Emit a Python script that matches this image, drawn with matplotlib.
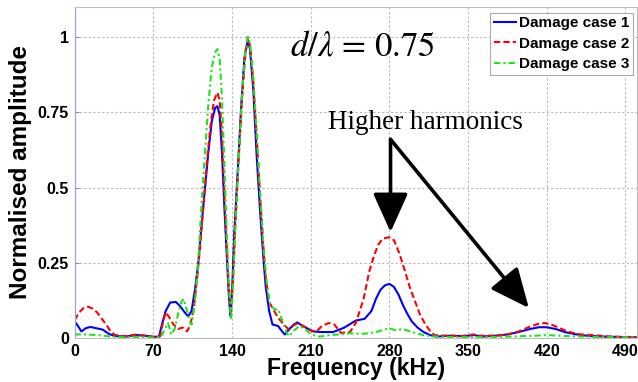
import matplotlib
matplotlib.use("Agg")
import matplotlib.pyplot as plt

plt.rcParams['font.family'] = ['Liberation Sans', 'DejaVu Sans']
plt.rcParams['mathtext.fontset'] = 'stix'

# Damage case 1 (solid blue)
freq_1 = [0, 3, 6, 10, 14, 20, 25, 30, 35, 45, 55, 62, 70, 75, 78, 81, 85, 90, 94, 98,
          101, 104, 107, 110, 113, 116, 119, 122, 125, 127, 129, 131, 133, 135, 137, 138.5,
          140, 142, 145, 148, 151, 154, 156, 159, 162, 165, 168, 170, 173, 176, 181, 185,
          187, 191, 195, 198, 203, 208, 212, 220, 230, 240, 250, 258, 264, 268, 272, 276,
          280, 284, 288, 292, 296, 300, 305, 310, 316, 322, 335, 345, 355, 362, 375, 385,
          395, 405, 413, 420, 428, 436, 445, 455, 470, 490, 500]
amp_1 = [0.055, 0.04, 0.022, 0.033, 0.037, 0.032, 0.028, 0.015, 0.007, 0.005, 0.01, 0.008,
         0.004, 0.005, 0.05, 0.09, 0.118, 0.12, 0.105, 0.085, 0.072, 0.09, 0.16, 0.25, 0.38,
         0.5, 0.62, 0.72, 0.765, 0.77, 0.74, 0.62, 0.45, 0.3, 0.15, 0.073, 0.15, 0.35, 0.55,
         0.76, 0.93, 0.99, 0.96, 0.82, 0.6, 0.42, 0.26, 0.17, 0.09, 0.045, 0.04, 0.02, 0.012,
         0.03, 0.045, 0.052, 0.04, 0.03, 0.022, 0.02, 0.02, 0.035, 0.058, 0.064, 0.09, 0.13,
         0.16, 0.175, 0.18, 0.17, 0.145, 0.11, 0.08, 0.055, 0.035, 0.021, 0.01, 0.005, 0.008,
         0.006, 0.01, 0.005, 0.008, 0.012, 0.02, 0.03, 0.036, 0.036, 0.03, 0.02, 0.013, 0.008,
         0.005, 0.003, 0.002]

# Damage case 2 (dashed red)
freq_2 = [0, 4, 8, 12, 16, 20, 24, 28, 32, 36, 45, 55, 62, 70, 76, 79, 81, 84, 88, 92, 96,
          100, 103, 106, 109, 112, 115, 118, 121, 124, 127, 129, 131, 133, 135, 137, 139, 141,
          143, 146, 149, 152, 154, 156, 159, 162, 165, 168, 170, 173, 176, 179, 182, 186, 190,
          194, 197, 202, 206, 210, 215, 220, 226, 231, 237, 245, 250, 253, 257, 262, 266, 270,
          274, 280, 284, 289, 294, 298, 302, 307, 312, 316, 320, 330, 345, 355, 360, 375, 385,
          395, 405, 412, 418, 424, 432, 440, 450, 460, 475, 490, 500]
amp_2 = [0.06, 0.085, 0.1, 0.104, 0.098, 0.085, 0.065, 0.045, 0.022, 0.01, 0.006, 0.012,
         0.008, 0.004, 0.006, 0.06, 0.085, 0.07, 0.045, 0.03, 0.035, 0.022, 0.045, 0.1, 0.2,
         0.32, 0.46, 0.6, 0.71, 0.79, 0.815, 0.79, 0.68, 0.5, 0.33, 0.18, 0.09, 0.2, 0.38, 0.6,
         0.8, 0.95, 1.0, 0.97, 0.85, 0.66, 0.47, 0.3, 0.2, 0.12, 0.1, 0.08, 0.063, 0.045, 0.03,
         0.04, 0.047, 0.042, 0.035, 0.025, 0.022, 0.04, 0.05, 0.045, 0.017, 0.02, 0.05, 0.083,
         0.13, 0.22, 0.27, 0.31, 0.33, 0.335, 0.325, 0.28, 0.22, 0.17, 0.13, 0.08, 0.045, 0.025,
         0.01, 0.008, 0.007, 0.012, 0.008, 0.008, 0.012, 0.022, 0.038, 0.047, 0.05, 0.045,
         0.032, 0.02, 0.012, 0.01, 0.005, 0.004, 0.003]

# Damage case 3 (dash-dot green)
freq_3 = [0, 10, 20, 30, 40, 55, 70, 77, 80, 83, 86, 89, 92, 95, 97, 100, 102, 104, 107, 110,
          113, 116, 119, 122, 125, 127, 129, 131, 133, 135, 137, 139, 141, 143, 146, 149, 152,
          154, 156, 159, 162, 165, 168, 171, 174, 178, 181, 185, 189, 191, 195, 200, 205, 209,
          214, 218, 227, 235, 245, 255, 262, 270, 275, 280, 285, 292, 300, 310, 322, 340, 380,
          410, 420, 435, 460, 500]
amp_3 = [0.012, 0.012, 0.01, 0.006, 0.003, 0.004, 0.002, 0.004, 0.03, 0.05, 0.012, 0.03,
         0.08, 0.12, 0.13, 0.09, 0.06, 0.045, 0.12, 0.26, 0.45, 0.62, 0.78, 0.9, 0.95, 0.96,
         0.93, 0.8, 0.6, 0.38, 0.18, 0.06, 0.18, 0.38, 0.6, 0.82, 0.96, 1.0, 0.98, 0.86, 0.68,
         0.48, 0.3, 0.18, 0.11, 0.095, 0.096, 0.055, 0.015, 0.006, 0.025, 0.04, 0.03, 0.016,
         0.008, 0.005, 0.01, 0.012, 0.016, 0.014, 0.016, 0.022, 0.028, 0.033, 0.026, 0.03,
         0.02, 0.01, 0.005, 0.003, 0.004, 0.008, 0.01, 0.007, 0.004, 0.002]

series_labels = ['Damage case 1', 'Damage case 2', 'Damage case 3']
x_ticks = [0, 70, 140, 210, 280, 350, 420, 490]
y_ticks = [0, 0.25, 0.5, 0.75, 1]
y_tick_labels = ['0', '0.25', '0.5', '0.75', '1']

fig = plt.figure(figsize=(6.38, 3.82), dpi=100)
ax = fig.add_axes([0.117, 0.115, 0.881, 0.867])

ax.plot(freq_1, amp_1, color=(0, 0, 1), lw=1.5, ls='-', label=series_labels[0])
ax.plot(freq_2, amp_2, color=(1, 0, 0), lw=1.5, ls=(0, (3, 1.5)), label=series_labels[1])
ax.plot(freq_3, amp_3, color=(0.1, 0.9, 0.1), lw=1.5, ls=(0, (3, 1.5, 1, 1.5)),
        label=series_labels[2])

ax.set_xlim(0, 500)
ax.set_ylim(0, 1.1)
ax.set_xticks(x_ticks)
ax.set_yticks(y_ticks)
ax.set_yticklabels(y_tick_labels)
ax.tick_params(axis='x', length=0, pad=4, labelsize=11.5)
ax.tick_params(axis='y', direction='in', length=3, width=0.6, color='#777777', pad=4,
               labelsize=11.5)
for lbl in ax.get_xticklabels() + ax.get_yticklabels():
    lbl.set_fontweight('bold')

ax.grid(True, color='#b8b8b8', ls=(0, (2, 2)), lw=0.8)
ax.set_axisbelow(True)
for side in ('top', 'right', 'bottom'):
    ax.spines[side].set_color('#bdbdbd')
    ax.spines[side].set_linewidth(0.8)
ax.spines['left'].set_color('#9a9aff')
ax.spines['left'].set_linewidth(0.8)

ax.set_xlabel('Frequency (kHz)', fontsize=16.5, fontweight='bold')
ax.set_ylabel('Normalised amplitude', fontsize=17.5, fontweight='bold')
ax.xaxis.set_label_coords(0.5, -0.058)
ax.yaxis.set_label_coords(-0.075, 0.5)

leg = ax.legend(loc='upper right', bbox_to_anchor=(0.993, 0.983),
                prop={'weight': 'bold', 'size': 11}, handlelength=1.4, handletextpad=0.2,
                borderpad=0.25, labelspacing=0.42, fancybox=False, framealpha=1,
                borderaxespad=0.0)
leg.get_frame().set_edgecolor('#aaaaaa')
leg.get_frame().set_linewidth(0.8)

ax.text(256, 0.965, r'$d/\lambda$ = 0.75', fontsize=25, family='STIXGeneral',
        ha='center', va='center')
ax.text(312, 0.715, 'Higher harmonics', fontsize=19.5, family='Liberation Serif',
        ha='center', va='center')

start = (281, 0.66)
arrow_style = dict(arrowstyle='-|>,head_length=1.0,head_width=0.45', lw=2.6, color='k',
                   shrinkA=0, shrinkB=0, mutation_scale=24)
ax.annotate('', xy=(281, 0.352), xytext=start, arrowprops=arrow_style)
ax.annotate('', xy=(404, 0.1), xytext=start, arrowprops=arrow_style)

fig.savefig('out.png', dpi=100)
